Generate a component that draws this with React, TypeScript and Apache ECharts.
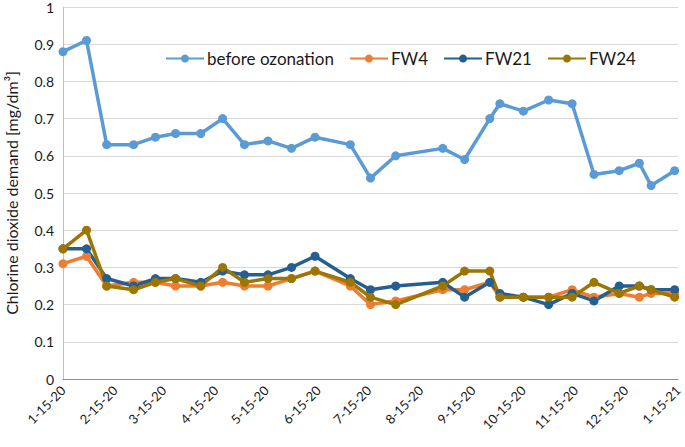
import React, { useEffect, useRef } from "react";
import * as echarts from "echarts";

const dates = [
  "2020-01-15", "2020-01-29", "2020-02-10", "2020-02-26", "2020-03-10", "2020-03-22",
  "2020-04-06", "2020-04-19", "2020-05-02", "2020-05-16", "2020-05-30", "2020-06-13",
  "2020-07-04", "2020-07-16", "2020-07-31", "2020-08-28", "2020-09-10", "2020-09-25",
  "2020-10-01", "2020-10-15", "2020-10-30", "2020-11-13", "2020-11-26", "2020-12-11",
  "2020-12-23", "2020-12-30", "2021-01-13",
];
const beforeOzonation = [0.88, 0.91, 0.63, 0.63, 0.65, 0.66, 0.66, 0.70, 0.63, 0.64, 0.62, 0.65, 0.63, 0.54, 0.60, 0.62, 0.59, 0.70, 0.74, 0.72, 0.75, 0.74, 0.55, 0.56, 0.58, 0.52, 0.56];
const fw4 = [0.31, 0.33, 0.25, 0.26, 0.26, 0.25, 0.25, 0.26, 0.25, 0.25, 0.27, 0.29, 0.25, 0.20, 0.21, 0.24, 0.24, 0.26, 0.22, 0.22, 0.22, 0.24, 0.22, 0.23, 0.22, 0.23, 0.23];
const fw21 = [0.35, 0.35, 0.27, 0.25, 0.27, 0.27, 0.26, 0.29, 0.28, 0.28, 0.30, 0.33, 0.27, 0.24, 0.25, 0.26, 0.22, 0.26, 0.23, 0.22, 0.20, 0.23, 0.21, 0.25, 0.25, 0.24, 0.24];
const fw24 = [0.35, 0.40, 0.25, 0.24, 0.26, 0.27, 0.25, 0.30, 0.26, 0.27, 0.27, 0.29, 0.26, 0.22, 0.20, 0.25, 0.29, 0.29, 0.22, 0.22, 0.22, 0.22, 0.26, 0.23, 0.25, 0.24, 0.22];
const tickDates = [
  "2020-01-15", "2020-02-15", "2020-03-15", "2020-04-15", "2020-05-15", "2020-06-15",
  "2020-07-15", "2020-08-15", "2020-09-15", "2020-10-15", "2020-11-15", "2020-12-15", "2021-01-15",
];
const tickLabels = [
  "1-15-20", "2-15-20", "3-15-20", "4-15-20", "5-15-20", "6-15-20",
  "7-15-20", "8-15-20", "9-15-20", "10-15-20", "11-15-20", "12-15-20", "1-15-21",
];
const seriesNames = ["before ozonation", "FW4", "FW21", "FW24"];
const seriesColors = ["#5B9BD5", "#ED7D31", "#255E91", "#9C7600"];

const DAY = 86400000;
const origin = Date.parse(dates[0] + "T00:00:00Z");
const dayOf = (d: string) => Math.round((Date.parse(d + "T00:00:00Z") - origin) / DAY);
const tickDays = tickDates.map(dayOf);

export default function App() {
  const ref = useRef<HTMLDivElement>(null);
  useEffect(() => {
    if (!ref.current) return;
    const chart = echarts.init(ref.current, null, { renderer: "svg" });
    const all = [beforeOzonation, fw4, fw21, fw24];
    chart.setOption({
      animation: false,
      backgroundColor: "#ffffff",
      textStyle: { fontFamily: "Lato" },
      grid: { left: 63, right: 7, top: 7, bottom: 68, containLabel: false, outerBoundsMode: "none" },
      legend: {
        left: 160,
        top: 45,
        itemWidth: 38,
        itemHeight: 10,
        itemGap: 15,
        textStyle: { fontSize: 17, color: "#1a1a1a", fontFamily: "Lato", padding: [0, 0, 0, -2] },
        data: seriesNames,
      },
      xAxis: {
        type: "value",
        min: 0,
        max: tickDays[tickDays.length - 1],
        splitLine: { show: false },
        axisTick: { show: false },
        axisLine: { show: true, lineStyle: { color: "#8C8C8C", width: 1 } },
        axisLabel: {
          customValues: tickDays,
          rotate: 45,
          fontSize: 13,
          color: "#1a1a1a",
          margin: 9,
          formatter: (v: number) => {
            const i = tickDays.indexOf(Math.round(v));
            return i >= 0 ? tickLabels[i] : "";
          },
        },
      },
      yAxis: {
        type: "value",
        min: 0,
        max: 1,
        interval: 0.1,
        name: "Chlorine dioxide demand [mg/dm\u00B3]",
        nameLocation: "middle",
        nameGap: 44,
        nameTextStyle: { fontSize: 16, color: "#1a1a1a", fontFamily: "Lato" },
        axisLine: { show: true, lineStyle: { color: "#BFBFBF" } },
        axisTick: { show: false },
        axisLabel: {
          fontSize: 14,
          color: "#1a1a1a",
          margin: 9,
          formatter: (v: number) => String(Math.round(v * 10) / 10),
        },
        splitLine: { lineStyle: { color: "#D9D9D9", width: 1 } },
      },
      series: all.map((vals, si) => ({
        name: seriesNames[si],
        type: "line",
        symbol: "circle",
        symbolSize: 9,
        showSymbol: true,
        color: seriesColors[si],
        lineStyle: { width: 3.5, color: seriesColors[si] },
        itemStyle: { color: seriesColors[si] },
        data: vals.map((v, i) => [dayOf(dates[i]), v]),
      })),
    });
    return () => chart.dispose();
  }, []);
  return <div ref={ref} style={{ width: 685, height: 447, position: "absolute", left: 0, top: 0 }} />;
}
